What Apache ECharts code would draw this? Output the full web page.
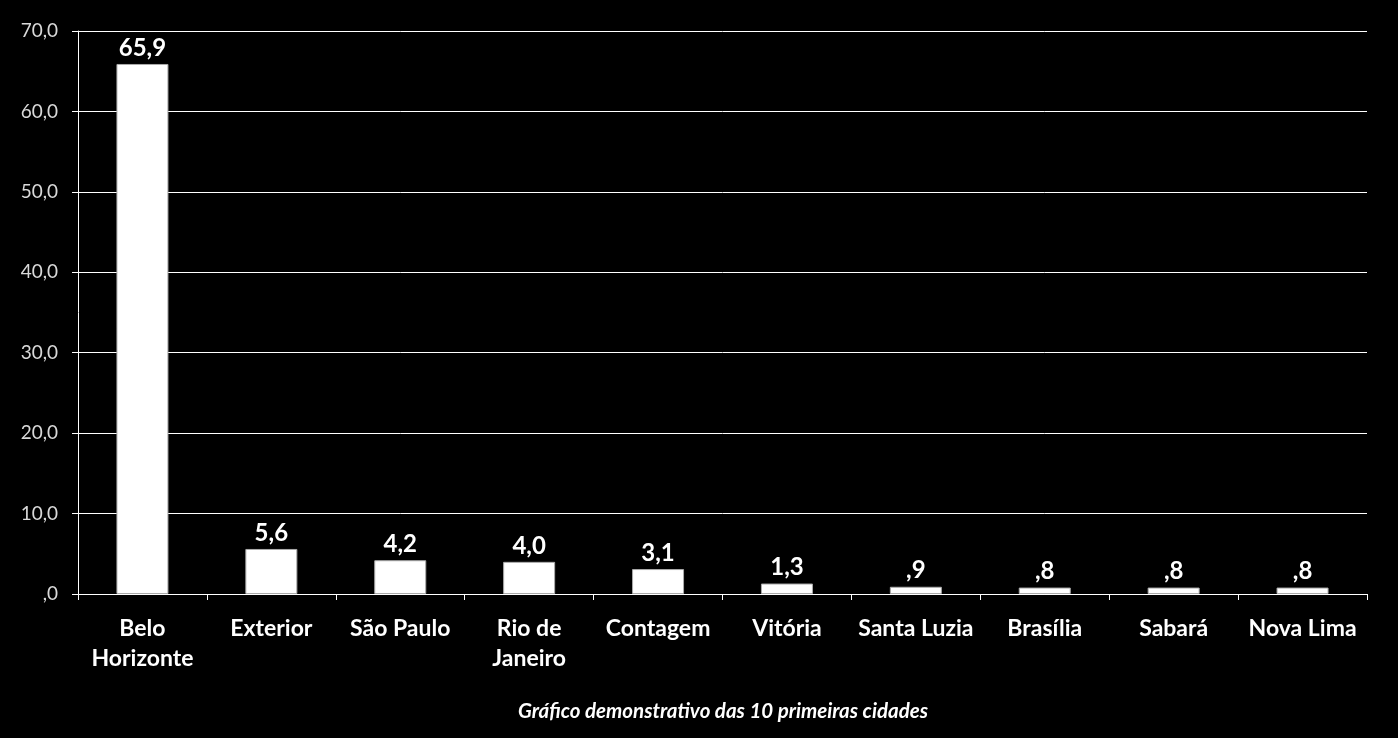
<!DOCTYPE html>
<html><head><meta charset="utf-8">
<script src="https://cdn.jsdelivr.net/npm/echarts@6/dist/echarts.min.js"></script>
<style>html,body{margin:0;padding:0;background:#000;}#c{width:1398px;height:738px;}</style>
</head><body><div id="c"></div>
<script>
const categories = ["Belo\nHorizonte","Exterior","São Paulo","Rio de\nJaneiro","Contagem","Vitória","Santa Luzia","Brasília","Sabará","Nova Lima"];
const values = [65.9,5.6,4.2,4.0,3.1,1.3,0.9,0.8,0.8,0.8];
const yTicks = {min:0,max:70,interval:10};
const titleText = "Gráfico demonstrativo das 10 primeiras cidades";

function fmt(v){ let s = Number(v).toFixed(1).replace('.',','); if (s.startsWith('0,')) s = s.slice(1); return s; }
const FONT = 'Lato, "Open Sans", sans-serif';
const chart = echarts.init(document.getElementById('c'));
chart.setOption({
  backgroundColor:'#000',
  animation:false,
  title:{text:titleText,left:718,textAlign:'center',top:696,textStyle:{color:'#fff',fontSize:20.5,fontStyle:'italic',fontWeight:'bold',fontFamily:FONT}},
  grid:{left:78,right:31,top:31,bottom:144,containLabel:false},
  xAxis:{type:'category',data:categories,
    axisLine:{lineStyle:{color:'#fff',width:1}},
    axisTick:{show:true,length:6,lineStyle:{color:'#fff'}},
    axisLabel:{color:'#fff',fontSize:23,fontWeight:'bold',fontFamily:FONT,margin:20,lineHeight:30,interval:0}},
  yAxis:{type:'value',min:yTicks.min,max:yTicks.max,interval:yTicks.interval,
    axisLine:{show:true,lineStyle:{color:'#fff',width:1}},
    axisTick:{show:true,length:6,lineStyle:{color:'#fff'}},
    splitLine:{show:true,lineStyle:{color:'#fff',width:1}},
    axisLabel:{color:'#d9d9d9',fontSize:19,fontFamily:FONT,margin:20,formatter:fmt}},
  series:[{type:'bar',data:values,barWidth:52,
    itemStyle:{color:'#fff',borderColor:'#aaa',borderWidth:1},
    label:{show:true,position:'top',distance:4,color:'#fff',fontSize:24,fontWeight:'bold',fontFamily:FONT,formatter:p=>fmt(p.value)}}]
});
</script></body></html>
